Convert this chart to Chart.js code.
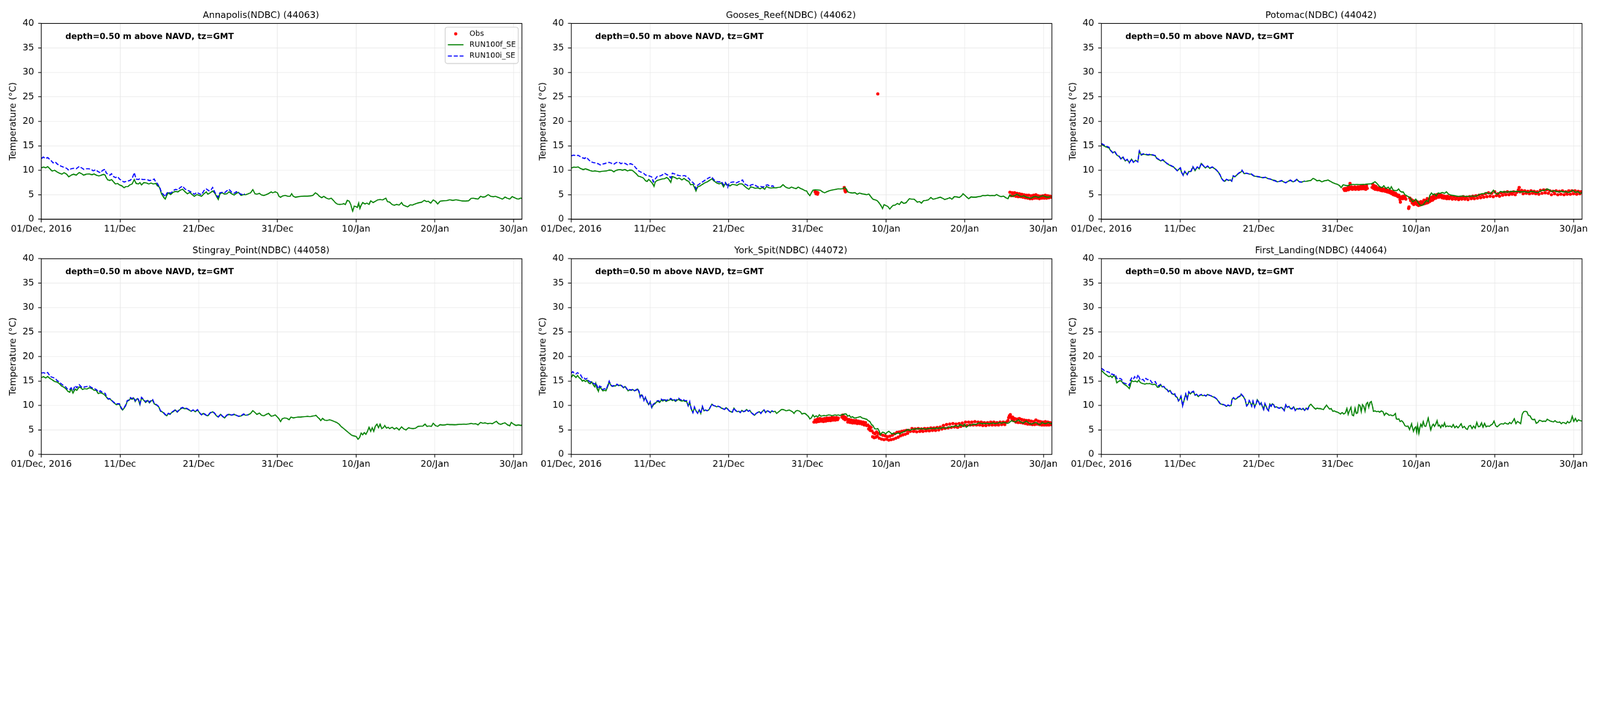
<!DOCTYPE html>
<html lang="en">
<head>
<meta charset="UTF-8">
<title>NDBC temperature comparison</title>
<script src="https://cdn.jsdelivr.net/npm/chart.js"></script>
<style>
  html, body { margin: 0; padding: 0; background: #fff; overflow: hidden; }
  #fig { position: absolute; left: 0; top: 0; width: 6000px; height: 1800px; transform-origin: 0 0; }
  #fig canvas { position: absolute; }
</style>
</head>
<body>
<div id="fig">
<canvas id="p1" width="1997" height="882" style="left:0px;top:0px"></canvas>
<canvas id="p2" width="1997" height="882" style="left:1987px;top:0px"></canvas>
<canvas id="p3" width="1997" height="882" style="left:3975px;top:0px"></canvas>
<canvas id="p4" width="1997" height="882" style="left:0px;top:882px"></canvas>
<canvas id="p5" width="1997" height="882" style="left:1987px;top:882px"></canvas>
<canvas id="p6" width="1997" height="882" style="left:3975px;top:882px"></canvas>
</div>
<script>
// x axis is days since 01/Dec/2016 00:00 GMT
const tickDays = [0, 10, 20, 30, 40, 50, 60];
const tickLabels = ['01/Dec, 2016', '11/Dec', '21/Dec', '31/Dec', '10/Jan', '20/Jan', '30/Jan'];
const xMax = 61.08;
const depthNote = 'depth=0.50 m above NAVD, tz=GMT';
const seriesNames = ['Obs', 'RUN100f_SE', 'RUN100i_SE'];

// Annapolis(NDBC) (44063)
const annapolisObs = [];
const annapolisF = [[0,10.5],[0.28,10.66],[0.56,10.5],[0.80,10.75],[1.08,10.3],[1.37,9.85],[1.69,10.0],[2.01,9.65],[2.29,9.4],[2.61,9.2],[2.89,9.5],[3.21,9.2],[3.49,8.67],[3.78,9.0],[4.10,9.2],[4.42,9.0],[4.82,9.54],[5.10,9.3],[5.38,9.0],[5.70,9.2],[6.10,9.24],[6.43,9.1],[6.71,9.24],[6.99,9.0],[7.31,8.85],[7.63,9.0],[7.91,9.17],[8.11,9.0],[8.23,8.57],[8.43,8.03],[8.71,7.94],[8.92,8.1],[9.12,7.76],[9.40,7.2],[9.72,7.3],[9.92,7.0],[10.20,6.85],[10.52,6.45],[10.72,6.67],[11.00,6.67],[11.24,7.0],[11.53,7.2],[11.81,8.1],[12.05,7.3],[12.33,7.2],[12.53,7.48],[12.73,7.0],[13.01,7.48],[13.33,7.43],[13.65,7.2],[13.94,7.4],[14.22,7.2],[14.54,7.3],[14.74,6.85],[14.94,6.67],[15.06,6.3],[15.26,5.2],[15.54,4.5],[15.74,4.12],[15.94,4.85],[16.14,5.4],[16.43,5.03],[16.75,5.5],[17.03,5.67],[17.35,5.58],[17.67,5.94],[17.95,6.12],[18.23,5.67],[18.55,5.2],[18.88,5.5],[19.16,5.03],[19.44,4.67],[19.76,5.03],[20.08,4.85],[20.36,4.67],[20.64,5.2],[20.96,5.58],[21.16,5.12],[21.45,5.4],[21.77,5.76],[22.01,5.4],[22.25,4.67],[22.49,4.03],[22.69,5.2],[22.97,5.4],[23.29,5.12],[23.57,5.2],[23.86,5.6],[24.18,5.2],[24.50,4.94],[24.78,5.3],[25.06,5.5],[25.38,4.85],[25.70,5.03],[25.98,5.0],[26.27,5.2],[26.59,5.4],[26.87,6.03],[27.15,5.2],[27.39,5.12],[27.71,5.3],[27.99,4.94],[28.27,4.85],[28.59,5.03],[28.88,5.25],[29.20,5.58],[29.40,5.4],[29.72,5.6],[30.00,5.4],[30.20,4.67],[30.40,4.5],[30.68,4.76],[31.00,4.85],[31.33,4.67],[31.61,4.67],[31.81,5.2],[32.01,4.67],[32.29,4.5],[32.61,4.58],[33.01,4.67],[33.41,4.7],[33.82,4.7],[34.22,4.76],[34.50,4.85],[34.82,5.4],[35.10,5.12],[35.34,4.67],[35.62,4.4],[35.90,4.67],[36.22,4.3],[36.55,4.12],[36.83,4.3],[37.11,3.85],[37.35,3.4],[37.63,3.07],[37.91,3.03],[38.23,3.07],[38.43,3.2],[38.63,3.0],[38.88,3.85],[39.12,3.67],[39.32,3.03],[39.44,2.3],[39.56,1.67],[39.76,2.67],[39.96,2.58],[40.16,2.4],[40.32,3.3],[40.48,2.2],[40.64,2.85],[40.84,3.4],[41.12,3.12],[41.37,3.3],[41.65,3.03],[41.85,3.76],[42.17,3.4],[42.45,3.67],[42.73,3.94],[43.05,4.03],[43.37,3.94],[43.78,4.3],[43.98,3.58],[44.26,3.49],[44.58,3.0],[44.86,2.85],[45.14,3.03],[45.46,2.89],[45.78,3.4],[45.98,2.89],[46.27,2.7],[46.55,2.52],[46.87,2.94],[47.15,2.89],[47.47,3.12],[47.79,3.3],[48.07,3.4],[48.35,3.49],[48.67,3.85],[48.96,3.58],[49.16,3.67],[49.48,3.3],[49.80,3.94],[50.08,3.67],[50.36,3.12],[50.68,3.67],[51.08,3.76],[51.49,3.79],[51.89,3.97],[52.29,3.85],[52.69,3.97],[53.09,3.85],[53.49,3.72],[53.90,3.7],[54.30,3.76],[54.62,4.27],[54.90,4.3],[55.18,4.2],[55.50,4.12],[55.82,4.67],[56.10,4.52],[56.39,4.58],[56.79,5.03],[57.11,4.67],[57.43,4.58],[57.71,4.67],[57.99,4.5],[58.31,4.3],[58.59,4.12],[58.92,4.52],[59.20,4.3],[59.52,4.12],[59.84,4.63],[60.12,4.4],[60.40,4.2],[60.64,4.12],[60.92,4.33],[61.08,4.2]];
const annapolisI = [[0,12.4],[0.24,12.7],[0.56,12.4],[0.80,12.6],[1.08,12.2],[1.29,11.9],[1.49,11.5],[1.77,11.7],[2.01,11.3],[2.29,11.0],[2.57,10.8],[2.89,10.6],[3.21,10.4],[3.49,10.0],[3.78,10.3],[4.10,10.4],[4.42,10.3],[4.82,10.8],[5.10,10.5],[5.38,10.2],[5.70,10.3],[6.02,10.3],[6.31,10.2],[6.59,9.9],[6.91,10.1],[7.23,9.7],[7.51,9.5],[7.79,10.0],[8.11,10.2],[8.23,9.5],[8.43,9.2],[8.71,9.0],[8.92,9.3],[9.12,8.8],[9.40,8.5],[9.72,8.7],[9.92,8.2],[10.20,7.9],[10.52,7.6],[10.72,7.7],[11.00,7.8],[11.24,7.9],[11.53,8.3],[11.81,9.5],[12.05,8.2],[12.33,8.1],[12.53,8.3],[12.85,8.1],[13.13,8.1],[13.41,8.1],[13.73,7.9],[14.06,8.0],[14.34,8.2],[14.54,7.6],[14.74,7.3],[14.94,6.7],[15.06,6.4],[15.26,5.5],[15.54,5.0],[15.74,4.6],[15.94,5.3],[16.14,5.6],[16.43,5.3],[16.75,5.8],[17.03,6.1],[17.35,6.0],[17.67,6.5],[17.95,6.8],[18.23,6.2],[18.55,5.9],[18.88,5.7],[19.16,5.4],[19.44,5.1],[19.76,5.5],[20.08,5.2],[20.36,5.0],[20.64,5.8],[20.96,6.2],[21.29,5.8],[21.57,6.0],[21.77,6.5],[22.01,5.6],[22.25,4.9],[22.45,4.5],[22.69,5.4],[22.97,5.5],[23.29,5.4],[23.57,5.8],[23.86,6.1],[24.18,5.5],[24.50,5.3],[24.78,5.6],[25.06,5.4],[25.38,5.1],[25.70,5.0],[25.86,5.2]];

// Gooses_Reef(NDBC) (44062)
const goosesObs = [[31.0,5.6],[31.1,5.2],[31.2,5.5],[31.3,5.1],[31.35,5.4],[34.7,6.5],[34.75,6.1],[34.8,5.8],[34.85,5.6],[34.9,5.7],[38.96,25.6],[55.75,5.5],[55.9,4.8],[56.05,5.4],[56.2,4.8],[56.35,5.4],[56.5,4.7],[56.65,5.3],[56.8,4.6],[56.95,5.2],[57.1,4.6],[57.25,5.1],[57.4,4.5],[57.55,5.0],[57.7,4.4],[57.85,4.9],[58.0,4.3],[58.15,4.9],[58.3,4.2],[58.45,4.8],[58.6,4.2],[58.75,4.9],[58.9,4.3],[59.05,5.0],[59.2,4.3],[59.35,4.8],[59.5,4.2],[59.65,4.7],[59.8,4.3],[59.95,4.8],[60.1,4.3],[60.25,4.9],[60.4,4.3],[60.55,4.8],[60.7,4.4],[60.85,4.7],[60.96,4.5]];
const goosesF = [[0,10.44],[0.32,10.65],[0.60,10.6],[0.88,10.69],[1.20,10.34],[1.53,10.14],[1.81,10.28],[2.09,10.14],[2.41,9.94],[2.73,9.8],[3.01,9.88],[3.29,9.8],[3.61,9.68],[3.94,9.8],[4.22,9.84],[4.50,9.88],[4.82,10.04],[5.14,10.0],[5.42,9.68],[5.62,9.94],[5.94,10.08],[6.22,10.14],[6.51,10.0],[6.83,10.14],[7.15,9.88],[7.43,10.04],[7.75,10.0],[7.95,9.74],[8.23,9.33],[8.51,8.83],[8.84,8.67],[9.16,8.43],[9.44,7.86],[9.64,7.72],[9.84,8.13],[10.12,7.72],[10.36,7.22],[10.52,6.71],[10.68,7.62],[10.92,7.92],[11.24,8.06],[11.57,8.23],[11.85,8.27],[12.13,8.53],[12.37,8.23],[12.65,7.52],[12.85,8.73],[13.17,8.53],[13.45,8.23],[13.73,8.43],[14.06,8.02],[14.34,8.33],[14.66,7.92],[14.94,7.72],[15.18,7.02],[15.46,7.12],[15.66,6.51],[15.86,5.77],[16.06,6.61],[16.39,6.81],[16.67,7.12],[16.95,7.42],[17.27,7.62],[17.55,7.92],[17.87,8.23],[18.15,7.82],[18.47,7.42],[18.80,7.22],[19.08,7.42],[19.36,6.61],[19.60,7.32],[19.88,7.02],[20.16,6.81],[20.48,7.12],[20.80,7.02],[21.08,6.92],[21.37,7.22],[21.69,7.22],[22.01,6.81],[22.29,6.41],[22.57,6.11],[22.81,6.61],[23.09,6.51],[23.37,6.31],[23.69,6.41],[24.02,6.21],[24.30,6.51],[24.58,6.11],[24.82,6.71],[25.10,6.45],[25.38,6.37],[25.70,6.45],[26.02,6.41],[26.31,6.51],[26.59,6.57],[26.91,7.06],[27.15,6.71],[27.39,6.45],[27.71,6.31],[27.99,6.57],[28.31,6.37],[28.59,6.25],[28.84,6.57],[29.12,6.31],[29.40,6.11],[29.72,5.81],[29.92,5.77],[30.12,5.2],[30.32,4.8],[30.52,5.4],[30.72,5.91],[31.00,6.01],[31.33,5.97],[31.65,5.91],[31.93,5.6],[32.21,5.4],[32.45,5.6],[32.73,5.77],[33.01,5.91],[33.33,6.01],[33.65,6.11],[33.94,6.21],[34.22,6.17],[34.54,6.25],[34.74,6.51],[34.94,6.25],[35.14,5.6],[35.42,5.44],[35.74,5.36],[36.06,5.44],[36.35,5.1],[36.63,5.36],[36.95,5.2],[37.27,5.1],[37.55,5.0],[37.83,5.16],[38.07,4.6],[38.35,4.09],[38.63,3.95],[38.88,3.79],[39.16,3.29],[39.36,2.78],[39.56,2.18],[39.76,2.98],[40.00,2.78],[40.24,2.58],[40.48,2.08],[40.64,2.38],[40.88,2.82],[41.16,2.88],[41.45,3.23],[41.69,3.02],[41.97,3.59],[42.25,3.23],[42.57,3.39],[42.77,3.79],[42.97,4.19],[43.29,4.09],[43.57,4.09],[43.78,3.79],[43.98,3.49],[44.26,3.59],[44.50,3.29],[44.78,3.79],[45.06,3.83],[45.38,3.95],[45.70,4.44],[45.98,4.09],[46.27,4.19],[46.59,4.35],[46.91,4.5],[47.19,4.29],[47.47,4.03],[47.79,4.19],[48.11,4.4],[48.39,4.09],[48.67,4.6],[49.00,4.56],[49.32,4.44],[49.60,4.76],[49.80,5.2],[50.04,4.84],[50.28,4.5],[50.52,4.19],[50.80,4.56],[51.08,4.5],[51.41,4.5],[51.73,4.6],[52.01,4.64],[52.29,4.84],[52.61,4.8],[52.93,4.9],[53.21,4.8],[53.49,4.84],[53.82,4.8],[54.06,5.04],[54.30,4.8],[54.62,4.6],[54.94,4.7],[55.22,4.4],[55.50,4.19],[55.74,5.0],[56.02,4.64],[56.31,4.8],[56.63,5.1],[56.95,4.8],[57.23,4.6],[57.51,4.8],[57.83,4.5],[58.15,4.4],[58.43,4.29],[58.71,4.56],[59.04,4.64],[59.36,4.44],[59.64,4.64],[59.92,4.8],[60.24,4.6],[60.56,4.5],[60.96,4.64]];
const goosesI = [[0,12.96],[0.32,13.1],[0.60,12.96],[0.88,13.06],[1.12,12.82],[1.41,12.56],[1.69,12.42],[1.93,12.66],[2.21,12.16],[2.49,11.75],[2.81,11.55],[3.13,11.49],[3.41,11.35],[3.69,11.09],[3.94,11.25],[4.22,11.35],[4.50,11.49],[4.82,11.61],[5.14,11.41],[5.42,11.25],[5.70,11.55],[6.02,11.69],[6.31,11.35],[6.63,11.55],[6.91,11.35],[7.23,11.05],[7.51,11.35],[7.83,11.15],[8.03,10.85],[8.23,10.44],[8.51,9.94],[8.84,9.64],[9.16,9.44],[9.44,9.03],[9.72,8.93],[9.96,8.83],[10.24,8.63],[10.44,7.62],[10.68,8.23],[10.92,8.73],[11.24,8.83],[11.57,9.03],[11.85,9.4],[12.13,9.13],[12.37,8.93],[12.65,8.43],[12.85,9.4],[13.17,9.23],[13.45,9.03],[13.73,8.93],[14.06,8.83],[14.38,8.93],[14.66,8.73],[14.94,8.33],[15.18,7.82],[15.46,7.52],[15.66,7.12],[15.86,6.21],[16.06,6.92],[16.39,7.32],[16.67,7.62],[16.95,7.92],[17.27,8.23],[17.55,8.53],[17.87,8.63],[18.15,8.02],[18.47,7.72],[18.80,7.62],[19.08,7.72],[19.36,7.02],[19.60,7.52],[19.88,6.51],[20.08,7.42],[20.40,7.58],[20.68,7.62],[20.96,7.42],[21.29,7.66],[21.61,7.86],[21.77,8.02],[22.01,7.22],[22.29,7.02],[22.57,6.71],[22.89,7.02],[23.21,7.12],[23.49,6.81],[23.78,6.61],[24.10,6.71],[24.42,6.57],[24.70,6.92],[24.98,7.02],[25.30,6.71],[25.62,6.81],[25.78,6.65]];

// Potomac(NDBC) (44042)
const potomacObs = [[30.8,6.2],[30.9,5.9],[31.0,6.3],[31.1,5.9],[31.2,6.2],[31.3,6.4],[31.4,6.0],[31.5,6.6],[31.6,7.3],[31.7,6.2],[31.8,6.6],[31.9,6.1],[32.0,6.5],[32.1,6.2],[32.2,6.6],[32.3,6.1],[32.4,6.5],[32.5,6.2],[32.6,6.6],[32.7,6.1],[32.8,6.6],[32.9,6.2],[33.0,6.7],[33.1,6.2],[33.2,6.6],[33.3,6.9],[33.4,6.2],[33.5,6.5],[33.6,6.1],[33.7,6.8],[33.8,6.3],[34.4,6.5],[34.5,7.1],[34.6,6.3],[34.7,6.8],[34.8,6.1],[34.9,6.7],[35.0,6.3],[35.1,6.0],[35.2,6.4],[35.3,6.0],[35.4,6.3],[35.5,5.9],[35.6,6.3],[35.7,5.8],[35.8,6.2],[35.9,5.8],[36.0,6.1],[36.1,5.7],[36.2,6.0],[36.3,5.6],[36.4,5.9],[36.5,5.5],[36.6,5.8],[36.7,5.4],[36.8,5.7],[36.9,5.2],[37.0,5.6],[37.1,5.0],[37.2,5.4],[37.3,4.9],[37.4,5.3],[37.5,4.8],[37.6,5.0],[37.7,4.6],[37.8,4.9],[37.9,4.5],[37.95,4.0],[38.0,3.5],[38.05,4.2],[38.2,4.6],[38.3,4.2],[38.4,4.7],[38.5,4.3],[38.6,4.5],[38.7,4.1],[39.05,2.2],[39.1,2.5],[39.2,4.3],[39.3,3.8],[39.4,4.0],[39.5,3.3],[39.6,3.8],[39.7,3.0],[39.8,3.6],[39.9,3.2],[40.0,3.7],[40.1,3.0],[40.2,3.5],[40.3,2.8],[40.4,3.4],[40.5,2.9],[40.6,3.6],[40.7,3.0],[40.8,3.5],[40.9,3.1],[41.0,3.9],[41.1,3.2],[41.2,3.8],[41.3,3.3],[41.4,4.2],[41.5,3.4],[41.6,4.1],[41.7,3.6],[41.8,4.4],[41.9,3.8],[42.0,4.5],[42.1,3.9],[42.2,4.7],[42.3,4.2],[42.4,4.9],[42.5,4.3],[42.6,5.0],[42.7,4.5],[42.8,5.1],[42.9,4.5],[43.0,5.0],[43.1,4.6],[43.2,4.9],[43.3,4.4],[43.4,4.8],[43.5,4.3],[43.6,4.7],[43.7,4.3],[43.8,4.6],[43.9,4.2],[44.0,4.7],[44.2,4.2],[44.4,4.6],[44.6,4.1],[44.8,4.6],[45.0,4.1],[45.2,4.5],[45.4,4.0],[45.6,4.5],[45.8,4.1],[46.0,4.6],[46.2,4.1],[46.4,4.5],[46.6,4.0],[46.8,4.6],[47.0,4.2],[47.2,4.7],[47.4,4.2],[47.6,4.8],[47.8,4.3],[48.0,4.9],[48.2,4.4],[48.4,5.0],[48.6,4.5],[48.8,5.2],[49.0,4.6],[49.2,5.4],[49.4,4.7],[49.6,5.3],[49.8,4.6],[50.0,5.6],[50.2,4.8],[50.4,5.2],[50.6,4.7],[50.8,5.4],[51.0,4.9],[51.2,5.5],[51.4,5.0],[51.6,5.6],[51.8,5.0],[52.0,5.5],[52.2,5.1],[52.4,5.6],[52.6,5.0],[52.8,5.5],[53.0,6.0],[53.1,6.5],[53.2,5.6],[53.4,5.9],[53.6,5.2],[53.8,5.8],[54.0,5.3],[54.2,5.7],[54.4,5.2],[54.6,5.8],[54.8,5.3],[55.0,5.7],[55.2,5.2],[55.4,5.6],[55.6,5.1],[55.8,5.9],[56.0,5.3],[56.2,6.0],[56.4,5.4],[56.6,6.0],[56.8,5.3],[57.0,5.8],[57.2,5.0],[57.4,5.7],[57.6,5.2],[57.8,5.8],[58.0,5.0],[58.2,5.7],[58.4,5.1],[58.6,5.8],[58.8,5.0],[59.0,5.6],[59.2,5.1],[59.4,5.8],[59.6,5.1],[59.8,5.8],[60.0,5.2],[60.2,5.8],[60.4,5.1],[60.6,5.7],[60.8,5.2],[60.95,5.6]];
const potomacF = [[0,15.3],[0.4,14.9],[0.97,14.56],[1.17,14.02],[1.45,13.56],[1.69,13.78],[1.96,13.1],[2.24,12.84],[2.48,12.38],[2.76,12.65],[3.04,11.93],[3.28,12.2],[3.56,11.56],[3.83,12.29],[4.07,11.65],[4.35,12.02],[4.63,11.75],[4.83,13.93],[5.07,13.1],[5.35,13.29],[5.66,13.2],[5.94,13.1],[6.22,13.2],[6.54,13.1],[6.86,12.93],[7.02,12.47],[7.26,12.2],[7.53,11.93],[7.81,12.11],[8.05,11.75],[8.33,11.38],[8.61,11.11],[8.93,10.84],[9.20,10.65],[9.40,10.29],[9.64,9.93],[9.80,10.11],[10.04,10.47],[10.20,9.56],[10.40,9.02],[10.60,9.75],[10.91,9.11],[11.11,9.75],[11.39,9.75],[11.63,10.65],[11.91,9.93],[12.19,10.65],[12.43,10.29],[12.70,11.38],[12.98,10.84],[13.22,10.47],[13.50,10.84],[13.78,10.38],[14.10,10.65],[14.42,10.29],[14.69,9.93],[14.89,9.56],[15.09,9.02],[15.29,8.29],[15.49,7.93],[15.69,7.76],[15.89,8.11],[16.17,7.93],[16.40,8.02],[16.56,7.76],[16.76,8.84],[16.96,8.65],[17.20,9.02],[17.48,9.38],[17.76,9.65],[17.88,9.93],[18.15,9.29],[18.47,9.38],[18.79,9.2],[19.07,9.2],[19.35,8.84],[19.67,8.75],[19.98,8.65],[20.26,8.56],[20.54,8.47],[20.86,8.56],[21.18,8.29],[21.46,8.2],[21.73,8.02],[22.05,7.93],[22.37,7.65],[22.65,7.75],[22.93,7.84],[23.17,7.65],[23.44,7.47],[23.72,7.75],[24.04,7.93],[24.36,7.65],[24.64,7.84],[24.84,8.11],[25.16,7.65],[25.43,7.56],[25.71,7.75],[26.03,7.75],[26.35,7.84],[26.63,7.93],[26.91,8.33],[27.14,8.15],[27.42,7.84],[27.70,7.93],[28.02,7.65],[28.34,7.84],[28.62,7.93],[28.81,8.02],[29.09,7.75],[29.41,7.47],[29.69,7.29],[30.01,7.11],[30.29,6.84],[30.48,6.47],[30.72,7.02],[31.00,6.93],[31.28,6.84],[31.60,7.02],[31.92,7.11],[32.20,7.09],[32.47,7.11],[32.79,7.09],[33.11,7.11],[33.39,7.09],[33.67,7.16],[33.99,7.2],[34.30,7.24],[34.58,7.47],[34.78,7.65],[34.98,7.38],[35.18,7.02],[35.38,6.65],[35.66,6.47],[35.90,6.84],[36.17,6.29],[36.45,6.56],[36.69,6.11],[36.85,6.65],[37.09,5.93],[37.37,5.84],[37.57,5.84],[37.77,6.2],[37.96,5.75],[38.16,5.56],[38.36,5.56],[38.56,5.02],[38.76,4.84],[38.96,4.65],[39.16,4.47],[39.36,4.11],[39.56,3.56],[39.75,3.75],[39.95,4.11],[40.15,3.65],[40.35,3.2],[40.55,2.84],[40.75,2.84],[40.95,3.02],[41.15,3.56],[41.35,3.84],[41.54,3.56],[41.74,4.84],[41.94,5.38],[42.14,5.02],[42.34,5.2],[42.54,4.75],[42.82,5.38],[43.06,5.29],[43.33,5.47],[43.61,5.29],[43.85,5.6],[44.13,5.11],[44.41,4.93],[44.72,4.84],[45.04,4.75],[45.32,4.65],[45.60,4.69],[45.92,4.75],[46.24,4.62],[46.52,4.69],[46.79,4.65],[47.11,4.75],[47.43,4.65],[47.71,4.75],[47.99,5.02],[48.31,5.2],[48.62,5.2],[48.90,5.47],[49.18,5.29],[49.50,5.24],[49.82,5.93],[50.10,5.29],[50.37,5.11],[50.69,5.65],[51.01,5.56],[51.29,5.6],[51.57,5.56],[51.89,5.6],[52.20,5.71],[52.48,5.65],[52.76,5.71],[53.08,5.65],[53.40,5.56],[53.68,5.65],[53.95,5.6],[54.27,5.47],[54.59,5.71],[54.87,5.65],[55.15,5.53],[55.47,5.42],[55.78,5.71],[56.06,5.93],[56.34,5.84],[56.66,6.2],[56.98,5.93],[57.26,5.65],[57.53,5.84],[57.85,5.65],[58.17,5.56],[58.45,5.75],[58.73,5.56],[59.05,5.65],[59.36,5.47],[59.64,5.65],[59.92,5.93],[60.24,5.47],[60.56,5.65],[60.84,5.29],[61.08,5.4]];
const potomacI = [[0,15.5],[0.4,15.1],[0.97,14.7],[1.17,14.1],[1.45,13.6],[1.69,13.85],[1.96,13.2],[2.24,12.9],[2.48,12.3],[2.76,12.7],[3.04,11.9],[3.28,12.25],[3.56,11.5],[3.83,12.3],[4.07,11.6],[4.35,12.05],[4.63,11.7],[4.83,14.0],[5.07,13.2],[5.35,13.4],[5.66,13.3],[5.94,13.2],[6.22,13.3],[6.54,13.15],[6.86,13.0],[7.02,12.5],[7.26,12.3],[7.53,11.9],[7.81,12.2],[8.05,11.8],[8.33,11.4],[8.61,11.2],[8.93,10.9],[9.20,10.7],[9.40,10.3],[9.64,9.9],[9.80,10.2],[10.04,10.5],[10.20,9.5],[10.40,8.95],[10.60,9.8],[10.91,9.1],[11.11,9.8],[11.39,9.8],[11.63,10.75],[11.91,10.0],[12.19,10.7],[12.43,10.35],[12.70,11.45],[12.98,10.9],[13.22,10.5],[13.50,10.9],[13.78,10.45],[14.10,10.7],[14.42,10.35],[14.69,9.95],[14.89,9.6],[15.09,9.05],[15.29,8.3],[15.49,7.9],[15.69,7.7],[15.89,8.15],[16.17,7.95],[16.40,8.05],[16.56,7.8],[16.76,8.9],[16.96,8.7],[17.20,9.05],[17.48,9.45],[17.76,9.7],[17.88,10.0],[18.15,9.35],[18.47,9.4],[18.79,9.25],[19.07,9.25],[19.35,8.9],[19.67,8.8],[19.98,8.7],[20.26,8.6],[20.54,8.5],[20.86,8.6],[21.18,8.3],[21.46,8.2],[21.73,8.0],[22.05,7.85],[22.37,7.6],[22.65,7.75],[22.93,7.9],[23.17,7.6],[23.44,7.45],[23.72,7.8],[24.04,8.0],[24.36,7.6],[24.64,7.85],[24.84,8.15],[25.16,7.65],[25.43,7.6],[25.71,7.75],[25.83,7.8]];

// Stingray_Point(NDBC) (44058)
const stingrayObs = [];
const stingrayF = [[0,15.7],[0.28,15.88],[0.56,15.6],[0.80,15.93],[1.08,15.52],[1.37,15.25],[1.69,14.88],[2.01,14.79],[2.29,14.43],[2.57,13.97],[2.81,13.79],[3.09,13.43],[3.37,12.89],[3.61,12.7],[3.78,13.43],[4.02,12.52],[4.30,13.34],[4.50,13.07],[4.82,13.79],[5.02,13.61],[5.22,13.25],[5.50,13.43],[5.78,13.34],[6.10,13.61],[6.43,13.43],[6.71,13.07],[6.99,13.07],[7.23,12.43],[7.51,12.61],[7.79,12.43],[8.03,12.16],[8.31,11.62],[8.51,11.25],[8.71,11.34],[9.00,10.89],[9.24,10.53],[9.52,10.16],[9.72,10.25],[9.92,10.25],[10.12,9.44],[10.32,9.07],[10.52,9.44],[10.72,9.98],[10.92,10.89],[11.12,10.98],[11.33,11.43],[11.53,11.25],[11.73,11.52],[11.93,10.8],[12.13,11.34],[12.33,11.16],[12.53,10.16],[12.73,11.52],[13.01,11.07],[13.25,10.62],[13.53,11.0],[13.73,10.53],[13.94,10.89],[14.14,11.07],[14.34,10.34],[14.54,10.16],[14.74,9.98],[14.94,9.62],[15.14,8.8],[15.34,8.71],[15.54,8.44],[15.74,8.08],[15.94,7.89],[16.14,8.35],[16.35,8.17],[16.55,8.53],[16.75,8.71],[17.03,9.07],[17.27,8.62],[17.55,9.07],[17.75,9.35],[17.95,9.53],[18.15,9.35],[18.47,9.35],[18.76,9.07],[19.04,8.8],[19.28,9.07],[19.56,8.71],[19.84,9.07],[20.16,8.35],[20.36,8.08],[20.56,8.35],[20.76,8.17],[20.96,7.99],[21.16,7.89],[21.45,8.44],[21.77,8.68],[21.97,8.44],[22.25,7.89],[22.49,7.62],[22.77,8.17],[23.05,7.71],[23.29,7.44],[23.57,7.99],[23.86,8.17],[24.18,7.99],[24.50,8.17],[24.78,7.99],[25.06,7.77],[25.38,7.84],[25.70,8.17],[25.98,7.99],[26.27,8.08],[26.59,8.35],[26.87,8.93],[27.15,8.53],[27.39,8.17],[27.71,8.44],[27.99,7.99],[28.27,7.89],[28.59,8.17],[28.88,8.38],[29.20,7.8],[29.48,7.89],[29.72,8.08],[30.00,7.62],[30.20,7.26],[30.40,6.72],[30.60,7.26],[30.92,7.44],[31.20,7.35],[31.49,7.08],[31.73,7.62],[32.01,7.44],[32.29,7.53],[32.61,7.62],[32.93,7.62],[33.21,7.66],[33.49,7.71],[33.82,7.77],[34.14,7.71],[34.42,7.8],[34.70,7.89],[34.90,7.99],[35.10,7.62],[35.34,7.26],[35.50,6.9],[35.74,7.35],[36.02,6.99],[36.31,6.93],[36.63,7.08],[36.95,6.9],[37.23,6.72],[37.51,6.53],[37.83,6.17],[38.15,5.63],[38.43,5.26],[38.71,4.9],[38.96,4.54],[39.24,4.17],[39.44,3.9],[39.64,3.81],[39.84,3.72],[40.04,3.63],[40.24,3.09],[40.44,3.45],[40.64,4.36],[40.84,3.99],[41.04,4.45],[41.24,4.08],[41.45,4.72],[41.65,5.54],[41.85,4.72],[42.05,5.44],[42.25,4.72],[42.45,5.81],[42.65,6.17],[42.85,5.44],[43.05,6.17],[43.25,5.26],[43.45,5.44],[43.65,5.9],[43.86,5.35],[44.06,5.54],[44.26,5.26],[44.58,5.54],[44.86,5.17],[45.14,5.44],[45.46,4.99],[45.78,5.63],[46.06,5.17],[46.35,4.99],[46.67,5.44],[46.99,5.3],[47.27,5.26],[47.55,5.35],[47.87,5.72],[48.19,5.77],[48.47,5.77],[48.76,6.17],[49.00,5.72],[49.28,5.81],[49.56,5.72],[49.80,6.35],[50.08,5.9],[50.36,5.72],[50.68,6.08],[51.00,5.99],[51.29,6.03],[51.57,6.13],[51.89,6.08],[52.21,6.08],[52.49,6.06],[52.77,6.08],[53.09,6.13],[53.41,6.13],[53.69,6.17],[53.98,6.13],[54.30,6.21],[54.62,6.32],[54.90,6.21],[55.18,6.26],[55.50,6.03],[55.82,6.53],[56.10,6.35],[56.39,6.44],[56.71,6.26],[57.03,6.35],[57.31,6.26],[57.59,6.53],[57.83,6.75],[58.11,6.26],[58.39,6.13],[58.71,6.35],[58.92,6.44],[59.20,6.08],[59.52,5.84],[59.72,6.53],[60.00,6.17],[60.32,5.9],[60.64,6.03],[60.92,5.9],[61.08,6.0]];
const stingrayI = [[0,16.6],[0.28,16.7],[0.56,16.5],[0.80,16.73],[0.96,16.33],[1.20,15.88],[1.49,15.7],[1.77,15.52],[2.01,15.06],[2.29,14.79],[2.57,14.34],[2.81,14.07],[3.09,13.79],[3.37,13.25],[3.61,13.25],[3.78,13.61],[4.02,13.07],[4.30,14.07],[4.50,13.61],[4.82,14.25],[5.02,13.88],[5.22,13.61],[5.50,13.79],[5.78,13.88],[6.10,13.97],[6.43,13.61],[6.71,13.43],[6.99,13.25],[7.23,12.79],[7.51,12.98],[7.79,12.61],[8.11,12.49],[8.31,11.7],[8.51,11.35],[8.71,11.4],[9.00,10.95],[9.24,10.6],[9.52,10.3],[9.72,10.35],[9.92,10.35],[10.12,9.6],[10.32,9.2],[10.52,9.5],[10.72,10.1],[10.92,11.0],[11.12,11.1],[11.33,11.6],[11.53,11.4],[11.73,11.65],[11.93,10.95],[12.13,11.5],[12.33,11.3],[12.53,10.3],[12.73,11.65],[13.01,11.2],[13.25,10.75],[13.53,11.15],[13.73,10.65],[13.94,11.05],[14.14,11.2],[14.34,10.45],[14.54,10.25],[14.74,10.05],[14.94,9.7],[15.14,8.9],[15.34,8.75],[15.54,8.5],[15.74,8.15],[15.94,7.95],[16.14,8.4],[16.35,8.25],[16.55,8.6],[16.75,8.8],[17.03,9.15],[17.27,8.7],[17.55,9.15],[17.75,9.45],[17.95,9.6],[18.15,9.4],[18.47,9.4],[18.76,9.15],[19.04,8.85],[19.28,9.1],[19.56,8.75],[19.84,9.15],[20.16,8.4],[20.36,8.1],[20.56,8.4],[20.76,8.25],[20.96,8.0],[21.16,7.9],[21.45,8.5],[21.77,8.75],[21.97,8.5],[22.25,7.95],[22.49,7.65],[22.77,8.25],[23.05,7.75],[23.29,7.5],[23.57,8.05],[23.86,8.2],[24.18,8.05],[24.50,8.2],[24.78,8.0],[25.06,7.8],[25.38,7.9],[25.70,8.25],[25.98,8.0],[26.27,8.1]];

// York_Spit(NDBC) (44072)
const yorkObs = [[30.85,6.6],[31.0,7.0],[31.15,6.6],[31.3,7.2],[31.45,6.7],[31.6,7.3],[31.75,6.8],[31.9,7.2],[32.05,6.7],[32.2,7.3],[32.35,6.8],[32.5,7.4],[32.65,6.9],[32.8,7.4],[32.95,6.9],[33.1,7.5],[33.25,7.0],[33.4,7.5],[33.55,7.0],[33.7,7.5],[33.85,7.1],[33.94,7.4],[34.4,7.6],[34.5,8.0],[34.6,7.3],[34.7,7.7],[34.8,7.1],[34.9,7.5],[35.0,7.2],[35.15,6.6],[35.3,7.1],[35.45,6.5],[35.6,7.0],[35.75,6.4],[35.9,6.9],[36.05,6.4],[36.2,6.9],[36.35,6.3],[36.5,6.8],[36.65,6.3],[36.8,6.7],[36.95,6.2],[37.1,6.6],[37.25,6.0],[37.4,6.5],[37.55,5.9],[37.7,6.0],[37.8,5.2],[37.9,5.7],[38.0,4.9],[38.1,5.5],[38.2,4.8],[38.3,3.6],[38.4,4.4],[38.5,3.4],[38.6,4.2],[38.7,3.5],[38.8,4.6],[38.9,3.7],[39.0,4.3],[39.15,3.3],[39.3,4.1],[39.45,3.1],[39.6,3.9],[39.75,3.0],[39.9,3.8],[40.05,3.1],[40.2,3.6],[40.35,2.9],[40.5,3.7],[40.65,3.0],[40.8,3.9],[40.95,3.1],[41.1,4.2],[41.25,3.3],[41.4,4.5],[41.55,3.5],[41.7,4.6],[41.85,3.8],[42.0,4.7],[42.15,4.0],[42.3,4.8],[42.45,4.1],[42.6,4.9],[42.75,4.3],[42.9,4.9],[43.1,4.7],[43.3,5.3],[43.5,4.7],[43.7,5.2],[43.9,4.6],[44.1,5.3],[44.3,4.7],[44.5,5.2],[44.7,4.7],[44.9,5.3],[45.1,4.8],[45.3,5.3],[45.5,4.8],[45.7,5.4],[45.9,4.9],[46.1,5.4],[46.3,4.9],[46.5,5.5],[46.7,5.0],[46.9,5.6],[47.1,5.2],[47.3,5.9],[47.5,5.3],[47.7,6.1],[47.9,5.4],[48.1,6.2],[48.3,5.5],[48.5,6.3],[48.7,5.6],[48.9,6.2],[49.1,5.5],[49.3,6.3],[49.5,5.7],[49.7,6.4],[49.9,5.9],[50.1,6.6],[50.3,5.9],[50.5,6.6],[50.7,6.0],[50.9,6.6],[51.1,6.0],[51.3,6.7],[51.5,6.0],[51.7,6.6],[51.9,6.0],[52.1,6.6],[52.3,5.9],[52.5,6.5],[52.7,5.9],[52.9,6.5],[53.1,6.0],[53.3,6.6],[53.5,6.0],[53.7,6.6],[53.9,6.0],[54.1,6.5],[54.3,6.0],[54.5,6.6],[54.7,6.1],[54.9,6.6],[55.1,6.1],[55.3,6.6],[55.5,6.9],[55.6,7.5],[55.7,7.9],[55.8,8.1],[55.9,7.6],[56.0,7.2],[56.1,7.6],[56.2,6.9],[56.35,7.3],[56.5,6.6],[56.65,7.2],[56.8,6.5],[56.95,7.3],[57.1,6.5],[57.25,7.1],[57.4,6.4],[57.55,7.0],[57.7,6.3],[57.85,6.9],[58.0,6.2],[58.15,6.9],[58.3,6.2],[58.45,6.8],[58.6,6.1],[58.75,6.7],[58.9,6.1],[59.05,7.0],[59.2,6.2],[59.35,6.8],[59.5,6.1],[59.65,6.7],[59.8,6.0],[59.95,6.6],[60.1,6.0],[60.25,6.7],[60.4,6.0],[60.55,6.6],[60.7,6.0],[60.85,6.5],[60.96,6.1]];
const yorkF = [[0,15.7],[0.20,16.24],[0.40,16.06],[0.60,15.7],[0.80,16.15],[1.00,15.7],[1.20,15.43],[1.41,14.97],[1.61,15.15],[1.81,14.88],[2.01,15.15],[2.21,14.61],[2.41,14.43],[2.61,14.79],[2.81,14.16],[3.01,13.79],[3.13,14.52],[3.29,13.43],[3.45,12.89],[3.61,13.79],[3.82,13.43],[4.02,12.98],[4.22,13.07],[4.42,12.98],[4.62,13.79],[4.82,14.79],[5.02,14.16],[5.22,13.88],[5.42,13.97],[5.62,13.97],[5.82,14.25],[6.02,14.07],[6.22,14.16],[6.43,13.97],[6.63,13.61],[6.83,13.88],[7.03,13.43],[7.23,12.98],[7.43,13.16],[7.63,13.07],[7.83,13.25],[8.03,12.98],[8.23,13.07],[8.43,13.34],[8.63,12.7],[8.76,11.71],[8.92,12.16],[9.08,11.8],[9.24,11.07],[9.44,11.62],[9.64,10.71],[9.84,10.16],[10.04,10.71],[10.24,9.53],[10.44,10.16],[10.64,10.34],[10.84,10.71],[11.04,10.8],[11.24,10.62],[11.45,11.07],[11.65,10.89],[11.85,11.16],[12.05,10.8],[12.25,10.98],[12.45,11.07],[12.65,11.25],[12.85,10.98],[13.05,11.16],[13.25,10.8],[13.45,11.07],[13.65,11.25],[13.86,10.98],[14.06,10.89],[14.26,10.98],[14.46,10.8],[14.66,10.8],[14.86,9.89],[15.06,10.62],[15.26,9.26],[15.46,8.53],[15.66,9.62],[15.86,8.89],[16.06,8.44],[16.27,9.07],[16.47,8.35],[16.67,9.71],[16.87,8.89],[17.07,9.07],[17.27,8.89],[17.47,9.07],[17.67,9.62],[17.87,10.25],[18.07,9.98],[18.27,9.89],[18.47,9.71],[18.67,9.8],[18.88,9.71],[19.08,9.44],[19.28,9.35],[19.48,9.17],[19.68,9.53],[19.88,9.26],[20.08,8.89],[20.28,8.71],[20.48,8.62],[20.68,9.44],[20.88,8.98],[21.08,8.71],[21.29,8.8],[21.49,8.53],[21.69,8.98],[21.89,8.71],[22.09,8.8],[22.29,9.17],[22.49,8.8],[22.69,8.98],[22.89,8.53],[23.09,8.26],[23.29,7.99],[23.49,8.35],[23.69,8.53],[23.90,8.71],[24.10,8.35],[24.30,8.8],[24.50,9.07],[24.70,8.53],[24.90,8.89],[25.10,8.8],[25.30,8.53],[25.50,8.89],[25.70,8.71],[25.90,8.8],[26.10,8.35],[26.31,8.62],[26.51,8.89],[26.71,9.17],[26.91,9.17],[27.11,9.07],[27.31,8.89],[27.51,8.98],[27.71,9.07],[27.91,8.89],[28.11,8.71],[28.31,8.35],[28.51,8.8],[28.71,8.98],[28.92,8.89],[29.12,8.71],[29.32,8.26],[29.52,8.35],[29.72,8.35],[29.92,8.08],[30.12,7.8],[30.32,7.26],[30.52,7.44],[30.72,8.08],[30.92,7.62],[31.12,7.89],[31.33,7.62],[31.53,8.08],[31.73,7.8],[31.93,7.89],[32.13,7.95],[32.33,7.89],[32.53,7.98],[32.73,8.08],[32.93,8.02],[33.13,7.89],[33.33,7.98],[33.53,8.08],[33.73,7.98],[33.94,8.08],[34.14,7.95],[34.34,8.08],[34.54,8.13],[34.74,8.26],[34.94,8.26],[35.14,7.8],[35.34,7.98],[35.54,7.53],[35.74,7.71],[35.94,7.44],[36.14,7.44],[36.35,7.53],[36.55,7.62],[36.75,7.71],[36.95,7.44],[37.15,7.35],[37.35,7.26],[37.55,7.17],[37.75,6.9],[37.95,6.72],[38.15,6.08],[38.35,5.9],[38.55,5.26],[38.76,5.17],[38.96,5.26],[39.16,4.72],[39.28,3.99],[39.44,4.36],[39.56,4.54],[39.76,4.45],[39.96,4.17],[40.16,4.54],[40.36,4.72],[40.56,4.45],[40.76,4.17],[40.96,4.36],[41.16,4.08],[41.37,4.27],[41.57,4.36],[41.77,4.17],[41.97,4.45],[42.17,4.54],[42.37,4.72],[42.57,4.9],[42.77,5.08],[42.97,4.9],[43.17,4.99],[43.37,5.17],[43.57,5.08],[43.78,5.26],[43.98,5.17],[44.18,5.26],[44.38,5.17],[44.58,5.26],[44.78,5.23],[44.98,5.12],[45.18,5.17],[45.38,5.26],[45.58,5.3],[45.78,5.26],[45.98,5.35],[46.18,5.17],[46.39,5.41],[46.59,5.26],[46.79,5.44],[46.99,5.26],[47.19,5.54],[47.39,5.44],[47.59,5.35],[47.79,5.44],[47.99,5.63],[48.19,5.54],[48.39,5.72],[48.59,5.63],[48.80,5.9],[49.00,5.81],[49.20,5.72],[49.40,6.08],[49.60,5.99],[49.80,5.72],[50.00,6.17],[50.20,5.54],[50.40,5.81],[50.60,5.99],[50.80,5.99],[51.00,6.08],[51.20,6.17],[51.41,6.08],[51.61,6.26],[51.81,6.44],[52.01,6.35],[52.21,6.26],[52.41,6.35],[52.61,6.26],[52.81,6.35],[53.01,6.26],[53.21,6.26],[53.41,6.35],[53.61,6.44],[53.82,6.26],[54.02,6.35],[54.22,6.35],[54.42,6.53],[54.62,6.35],[54.82,6.44],[55.02,6.53],[55.22,6.44],[55.42,6.32],[55.62,6.44],[55.82,6.72],[56.02,6.9],[56.22,6.72],[56.43,6.62],[56.63,6.81],[56.83,7.08],[57.03,6.72],[57.23,6.53],[57.43,6.35],[57.63,6.62],[57.83,6.81],[58.03,6.53],[58.23,6.35],[58.43,6.17],[58.63,6.26],[58.84,6.44],[59.04,6.53],[59.24,6.35],[59.44,6.08],[59.64,6.17],[59.84,6.53],[60.04,6.35],[60.24,6.26],[60.44,6.35],[60.64,6.53],[60.84,6.32],[61.08,6.26]];
const yorkI = [[0,16.6],[0.20,16.9],[0.40,16.52],[0.60,16.42],[0.80,16.7],[1.00,16.42],[1.20,16.24],[1.41,15.61],[1.61,15.7],[1.81,15.34],[2.01,15.52],[2.21,15.06],[2.41,14.79],[2.61,14.88],[2.81,14.52],[3.01,14.34],[3.13,14.61],[3.29,13.97],[3.45,13.43],[3.61,13.97],[3.82,13.79],[4.02,13.25],[4.22,13.43],[4.42,13.25],[4.62,13.97],[4.82,14.97],[5.02,14.2],[5.22,13.95],[5.42,14.05],[5.62,14.0],[5.82,14.35],[6.02,14.1],[6.22,14.25],[6.43,14.0],[6.63,13.7],[6.83,13.95],[7.03,13.5],[7.23,13.05],[7.43,13.25],[7.63,13.15],[7.83,13.35],[8.03,13.0],[8.23,13.15],[8.43,13.45],[8.63,12.8],[8.76,11.7],[8.92,12.3],[9.08,11.9],[9.24,11.0],[9.44,11.7],[9.64,10.8],[9.84,10.2],[10.04,10.8],[10.24,9.6],[10.44,10.3],[10.64,10.5],[10.84,10.85],[11.04,11.0],[11.24,10.8],[11.45,11.3],[11.65,11.05],[11.85,11.4],[12.05,10.95],[12.25,11.2],[12.45,11.25],[12.65,11.45],[12.85,11.15],[13.05,11.35],[13.25,10.95],[13.45,11.3],[13.65,11.5],[13.86,11.2],[14.06,11.05],[14.26,11.2],[14.46,10.95],[14.66,11.0],[14.86,9.95],[15.06,10.8],[15.26,9.3],[15.46,8.5],[15.66,9.7],[15.86,8.9],[16.06,8.4],[16.27,9.1],[16.47,8.35],[16.67,9.8],[16.87,8.9],[17.07,9.1],[17.27,8.9],[17.47,9.1],[17.67,9.65],[17.87,10.3],[18.07,10.0],[18.27,9.9],[18.47,9.75],[18.67,9.85],[18.88,9.7],[19.08,9.45],[19.28,9.35],[19.48,9.2],[19.68,9.55],[19.88,9.3],[20.08,8.9],[20.28,8.7],[20.48,8.65],[20.68,9.5],[20.88,9.0],[21.08,8.75],[21.29,8.85],[21.49,8.55],[21.69,9.0],[21.89,8.75],[22.09,8.85],[22.29,9.2],[22.49,8.8],[22.69,9.0],[22.89,8.5],[23.09,8.25],[23.29,7.95],[23.49,8.35],[23.69,8.55],[23.90,8.75],[24.10,8.35],[24.30,8.85],[24.50,9.1],[24.70,8.55],[24.90,8.9],[25.10,8.8],[25.30,8.5],[25.50,8.9],[25.70,8.7]];

// First_Landing(NDBC) (44064)
const landingObs = [];
const landingF = [[0,17.2],[0.4,16.5],[0.97,15.88],[1.17,16.06],[1.37,15.7],[1.57,16.15],[1.77,15.79],[1.96,14.61],[2.16,14.88],[2.36,15.06],[2.56,14.97],[2.76,14.52],[2.96,14.25],[3.16,14.07],[3.36,13.79],[3.56,13.43],[3.68,14.16],[3.83,15.06],[4.07,14.88],[4.35,14.97],[4.55,14.79],[4.75,15.15],[4.95,14.7],[5.15,14.52],[5.35,14.43],[5.55,14.34],[5.74,14.48],[5.94,14.43],[6.14,14.48],[6.34,14.34],[6.54,14.25],[6.74,14.34],[6.94,14.16],[7.14,13.7],[7.33,13.79],[7.53,14.25],[7.73,13.79],[7.93,13.88],[8.13,13.43],[8.33,13.25],[8.53,12.79],[8.73,13.07],[8.93,12.43],[9.13,12.25],[9.32,12.34],[9.44,11.8],[9.64,11.62],[9.80,10.89],[9.96,11.25],[10.12,11.8],[10.32,9.98],[10.52,11.07],[10.72,12.25],[10.91,11.25],[11.11,12.7],[11.31,12.34],[11.51,12.7],[11.71,12.79],[11.91,12.07],[12.11,12.25],[12.31,11.8],[12.51,12.07],[12.70,12.16],[12.90,11.98],[13.10,12.07],[13.30,11.89],[13.50,12.25],[13.70,12.07],[13.90,11.98],[14.10,11.8],[14.30,11.71],[14.49,11.52],[14.69,11.25],[14.89,10.8],[15.09,10.34],[15.29,10.25],[15.49,10.16],[15.69,10.07],[15.89,9.8],[16.09,10.07],[16.28,9.89],[16.48,9.98],[16.60,11.25],[16.80,11.52],[17.00,11.25],[17.20,11.43],[17.40,11.71],[17.60,11.8],[17.76,12.25],[17.92,11.98],[18.08,11.71],[18.27,11.16],[18.47,9.89],[18.67,10.34],[18.79,10.98],[18.95,10.53],[19.11,9.8],[19.27,10.8],[19.47,9.8],[19.67,10.34],[19.82,11.16],[19.98,10.71],[20.14,10.16],[20.30,10.53],[20.46,9.8],[20.62,9.17],[20.78,10.34],[20.94,9.8],[21.10,9.17],[21.26,9.07],[21.42,10.25],[21.58,9.8],[21.73,10.34],[21.89,10.16],[22.05,9.62],[22.25,9.71],[22.45,9.53],[22.65,9.44],[22.85,9.62],[23.05,9.35],[23.25,8.98],[23.44,10.07],[23.64,9.62],[23.84,9.8],[24.04,9.35],[24.24,9.35],[24.44,9.71],[24.64,8.98],[24.84,9.35],[25.04,9.26],[25.23,9.35],[25.43,9.17],[25.63,9.35],[25.83,8.98],[26.03,9.44],[26.23,9.17],[26.43,9.98],[26.63,10.25],[26.82,9.89],[27.02,9.53],[27.22,9.26],[27.42,9.44],[27.62,9.35],[27.82,9.35],[28.02,9.26],[28.22,9.17],[28.42,9.62],[28.61,10.07],[28.81,9.62],[29.01,9.26],[29.21,9.35],[29.41,8.8],[29.61,8.89],[29.81,8.71],[30.01,8.62],[30.21,8.44],[30.40,8.26],[30.60,8.53],[30.80,8.26],[31.00,8.44],[31.20,9.35],[31.36,8.17],[31.52,8.89],[31.72,9.62],[31.88,8.08],[32.04,7.89],[32.24,9.44],[32.39,8.35],[32.55,8.44],[32.71,10.16],[32.87,9.98],[33.03,8.71],[33.19,10.16],[33.35,9.8],[33.51,8.8],[33.67,10.34],[33.83,10.62],[33.99,9.62],[34.15,10.62],[34.30,10.8],[34.46,9.8],[34.58,8.8],[34.78,8.89],[34.98,8.71],[35.18,8.8],[35.38,8.62],[35.58,8.89],[35.78,8.71],[35.97,7.99],[36.17,8.44],[36.37,8.26],[36.57,7.99],[36.77,8.08],[36.97,7.89],[37.17,7.99],[37.37,8.35],[37.49,7.26],[37.65,7.17],[37.80,7.26],[37.96,6.72],[38.16,6.9],[38.36,6.53],[38.56,5.9],[38.76,5.72],[38.96,5.81],[39.16,5.08],[39.28,5.63],[39.43,6.26],[39.55,5.35],[39.67,4.72],[39.83,5.44],[39.95,5.63],[40.07,4.54],[40.19,5.99],[40.35,4.27],[40.47,5.44],[40.59,6.17],[40.75,5.63],[40.91,6.72],[41.07,5.81],[41.22,5.72],[41.38,6.53],[41.54,7.44],[41.70,6.17],[41.86,4.99],[42.02,5.81],[42.18,6.17],[42.34,5.72],[42.50,6.17],[42.66,6.9],[42.82,5.81],[42.98,5.99],[43.13,5.44],[43.29,5.99],[43.45,5.72],[43.61,6.44],[43.77,5.63],[43.93,5.81],[44.13,5.72],[44.33,5.81],[44.53,5.54],[44.72,6.08],[44.92,5.44],[45.12,5.81],[45.32,5.44],[45.52,5.81],[45.72,6.26],[45.92,5.44],[46.12,5.72],[46.32,5.26],[46.51,5.08],[46.71,5.81],[46.91,5.9],[47.11,5.26],[47.31,5.81],[47.51,5.35],[47.71,6.53],[47.91,5.63],[48.11,5.72],[48.31,6.44],[48.50,5.54],[48.70,6.35],[48.90,5.63],[49.10,5.81],[49.30,5.72],[49.50,5.99],[49.70,6.17],[49.90,6.81],[50.10,5.9],[50.29,5.63],[50.49,5.9],[50.69,6.17],[50.89,6.26],[51.09,6.17],[51.29,6.44],[51.49,6.26],[51.69,6.17],[51.89,6.53],[52.08,6.26],[52.28,6.72],[52.48,7.26],[52.68,6.26],[52.88,6.72],[53.08,6.53],[53.28,6.26],[53.48,8.17],[53.67,8.71],[53.87,8.8],[54.07,8.71],[54.27,7.99],[54.47,7.89],[54.67,7.26],[54.87,7.08],[55.07,7.17],[55.27,6.35],[55.47,6.53],[55.66,6.99],[55.86,6.9],[56.06,6.72],[56.26,6.81],[56.46,6.72],[56.66,7.17],[56.86,6.99],[57.06,6.81],[57.26,6.72],[57.45,6.62],[57.65,6.9],[57.85,6.62],[58.05,6.53],[58.25,6.62],[58.45,6.26],[58.65,6.53],[58.85,6.44],[59.05,6.26],[59.24,6.72],[59.44,6.44],[59.64,6.72],[59.84,7.8],[60.04,6.72],[60.24,7.35],[60.44,6.72],[60.64,7.08],[60.84,6.9],[61.08,6.8]];
const landingI = [[0,17.6],[0.4,17.1],[0.97,16.79],[1.17,16.33],[1.37,16.42],[1.57,16.24],[1.77,16.33],[1.96,15.52],[2.16,15.34],[2.36,15.52],[2.56,15.34],[2.76,14.7],[2.96,14.52],[3.16,14.43],[3.36,14.34],[3.56,14.07],[3.68,15.06],[3.83,15.61],[4.07,15.34],[4.23,15.88],[4.47,15.43],[4.67,16.33],[4.87,15.43],[5.07,15.15],[5.27,15.34],[5.47,14.97],[5.66,15.52],[5.86,15.25],[6.06,15.34],[6.26,15.06],[6.46,14.61],[6.66,14.79],[6.86,14.88],[7.06,14.16],[7.26,13.97],[7.45,14.25],[7.53,14.3],[7.73,13.85],[7.93,13.9],[8.13,13.5],[8.33,13.3],[8.53,12.85],[8.73,13.1],[8.93,12.5],[9.13,12.3],[9.32,12.4],[9.44,11.85],[9.64,11.7],[9.80,10.95],[9.96,11.3],[10.12,11.9],[10.32,9.9],[10.52,11.1],[10.72,12.35],[10.91,11.3],[11.11,12.8],[11.31,12.4],[11.51,12.75],[11.71,12.9],[11.91,12.1],[12.11,12.3],[12.31,11.85],[12.51,12.1],[12.70,12.25],[12.90,12.0],[13.10,12.1],[13.30,11.95],[13.50,12.3],[13.70,12.1],[13.90,12.0],[14.10,11.85],[14.30,11.75],[14.49,11.55],[14.69,11.3],[14.89,10.85],[15.09,10.4],[15.29,10.3],[15.49,10.2],[15.69,10.1],[15.89,9.7],[16.09,10.1],[16.28,9.95],[16.48,10.0],[16.60,11.3],[16.80,11.6],[17.00,11.3],[17.20,11.5],[17.40,11.75],[17.60,11.9],[17.76,12.35],[17.92,12.05],[18.08,11.75],[18.27,11.2],[18.47,9.9],[18.67,10.4],[18.79,11.0],[18.95,10.55],[19.11,9.85],[19.27,10.85],[19.47,9.6],[19.67,10.4],[19.82,11.2],[19.98,10.75],[20.14,10.2],[20.30,10.55],[20.46,9.85],[20.62,9.2],[20.78,10.4],[20.94,9.85],[21.10,9.2],[21.26,8.9],[21.42,10.3],[21.58,9.85],[21.73,10.4],[21.89,10.2],[22.05,9.6],[22.25,9.75],[22.45,9.5],[22.65,9.45],[22.85,9.65],[23.05,9.4],[23.25,8.9],[23.44,10.15],[23.64,9.6],[23.84,9.8],[24.04,9.35],[24.24,9.3],[24.44,9.75],[24.64,8.95],[24.84,9.35],[25.04,9.3],[25.23,9.4],[25.43,9.15],[25.63,9.4],[25.83,9.0],[26.03,9.45],[26.23,9.2],[26.43,9.95]];

const panels = [
  { id: 'p1', title: 'Annapolis(NDBC) (44063)', obs: annapolisObs, f: annapolisF, i: annapolisI, legend: true },
  { id: 'p2', title: 'Gooses_Reef(NDBC) (44062)', obs: goosesObs, f: goosesF, i: goosesI, legend: false },
  { id: 'p3', title: 'Potomac(NDBC) (44042)', obs: potomacObs, f: potomacF, i: potomacI, legend: false },
  { id: 'p4', title: 'Stingray_Point(NDBC) (44058)', obs: stingrayObs, f: stingrayF, i: stingrayI, legend: false },
  { id: 'p5', title: 'York_Spit(NDBC) (44072)', obs: yorkObs, f: yorkF, i: yorkI, legend: false },
  { id: 'p6', title: 'First_Landing(NDBC) (44064)', obs: landingObs, f: landingF, i: landingI, legend: false }
];

// the figure is laid out in 6000x1800 units; fit it to the window
const fitScale = window.innerWidth / 6000;
document.getElementById('fig').style.transform = 'scale(' + fitScale + ')';
const pixelRatio = (window.devicePixelRatio || 1) * fitScale;

const FONT = '"DejaVu Sans", sans-serif';
const toXY = arr => arr.map(([x, y]) => ({ x, y }));

// frame, depth note and the matplotlib style legend
const panelExtras = {
  id: 'panelExtras',
  afterDatasetsDraw(chart, args, opts) {
    const { ctx, chartArea: a } = chart;
    ctx.save();
    ctx.strokeStyle = '#000';
    ctx.lineWidth = 2.7;
    ctx.strokeRect(a.left, a.top, a.right - a.left, a.bottom - a.top);

    ctx.fillStyle = '#000';
    ctx.font = 'bold 31px ' + FONT;
    ctx.textAlign = 'left';
    ctx.textBaseline = 'alphabetic';
    ctx.fillText(depthNote, a.left + 0.05 * (a.right - a.left), a.top + 58);

    if (opts.legend) {
      const bx = a.right - 288, by = a.top + 14, bw = 274, bh = 136;
      ctx.beginPath();
      ctx.roundRect(bx, by, bw, bh, 8);
      ctx.fillStyle = 'rgba(255,255,255,0.8)';
      ctx.fill();
      ctx.strokeStyle = '#cccccc';
      ctx.lineWidth = 2.7;
      ctx.stroke();

      const hx0 = a.right - 278, hx1 = a.right - 219, tx = a.right - 197;
      const rows = [a.top + 39, a.top + 80, a.top + 122];
      // Obs
      ctx.fillStyle = '#ff0000';
      ctx.beginPath();
      ctx.arc((hx0 + hx1) / 2, rows[0], 6, 0, Math.PI * 2);
      ctx.fill();
      // RUN100f_SE
      ctx.strokeStyle = '#008000';
      ctx.lineWidth = 4.2;
      ctx.beginPath(); ctx.moveTo(hx0, rows[1]); ctx.lineTo(hx1, rows[1]); ctx.stroke();
      // RUN100i_SE
      ctx.strokeStyle = '#0000ff';
      ctx.setLineDash([15.4, 6.7]);
      ctx.beginPath(); ctx.moveTo(hx0, rows[2]); ctx.lineTo(hx1, rows[2]); ctx.stroke();
      ctx.setLineDash([]);

      ctx.fillStyle = '#000';
      ctx.font = '28px ' + FONT;
      ctx.textBaseline = 'middle';
      seriesNames.forEach((name, k) => ctx.fillText(name, tx, rows[k]));
    }
    ctx.restore();
  }
};

const gridStyle = { color: '#e6e6e6', lineWidth: 2, tickColor: '#000', tickWidth: 2.7, tickLength: 12 };
const tickFont = { family: FONT, size: 34 };

panels.forEach(p => {
  new Chart(document.getElementById(p.id), {
    type: 'scatter',
    data: {
      datasets: [
        { label: seriesNames[0], data: toXY(p.obs), showLine: false, pointRadius: 6, pointBorderWidth: 0, pointBackgroundColor: '#ff0000', order: 3 },
        { label: seriesNames[1], data: toXY(p.f), showLine: true, borderColor: '#008000', borderWidth: 4.2, pointRadius: 0, order: 2 },
        { label: seriesNames[2], data: toXY(p.i), showLine: true, borderColor: '#0000ff', borderWidth: 4.2, borderDash: [15.4, 6.7], pointRadius: 0, order: 1 }
      ]
    },
    options: {
      responsive: false,
      animation: false,
      devicePixelRatio: pixelRatio,
      layout: { padding: { left: 0, right: 40, top: 0, bottom: 0 } },
      plugins: {
        legend: { display: false },
        tooltip: { enabled: false },
        title: { display: true, text: p.title, color: '#000', font: { family: FONT, size: 34, weight: 'normal' }, padding: { top: 38, bottom: 9.2 } },
        panelExtras: { legend: p.legend }
      },
      scales: {
        x: {
          type: 'linear', min: 0, max: xMax,
          afterBuildTicks: s => { s.ticks = tickDays.map(v => ({ value: v })); },
          afterFit: s => { s.height = 60; },
          ticks: { callback: v => tickLabels[tickDays.indexOf(v)], color: '#000', font: tickFont, padding: 5, maxRotation: 0, autoSkip: false },
          grid: gridStyle,
          border: { display: false }
        },
        y: {
          min: 0, max: 40,
          afterFit: s => { s.width = 155; },
          ticks: { stepSize: 5, color: '#000', font: tickFont, padding: 15 },
          title: { display: true, text: 'Temperature (°C)', color: '#000', font: tickFont, padding: { top: 30, bottom: 0 } },
          grid: gridStyle,
          border: { display: false }
        }
      }
    },
    plugins: [panelExtras]
  });
});
</script>
</body>
</html>
